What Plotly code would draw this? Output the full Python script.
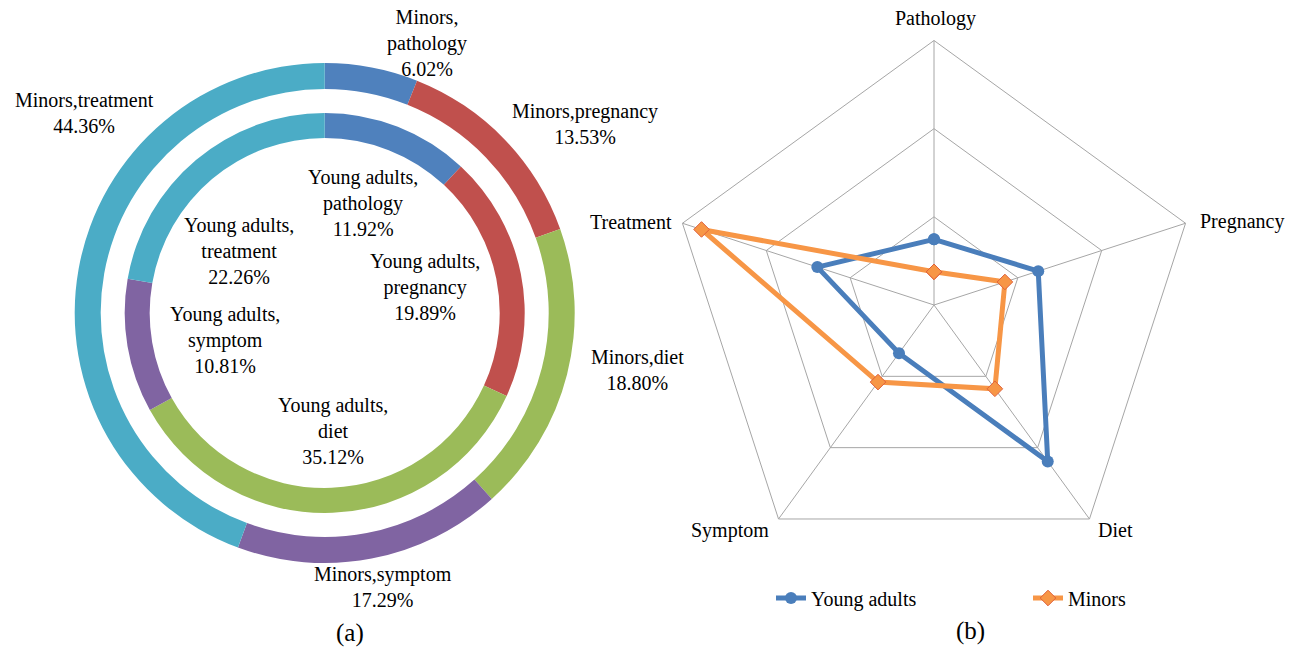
import plotly.graph_objects as go

# Topic shares (%) by age group, listed clockwise from the top
topics = ["Pathology", "Pregnancy", "Diet", "Symptom", "Treatment"]
topic_keys = ["pathology", "pregnancy", "diet", "symptom", "treatment"]
young_adults = [11.92, 19.89, 35.12, 10.81, 22.26]
minors = [6.02, 13.53, 18.80, 17.29, 44.36]

slice_colors = ["#4F81BD", "#C0504D", "#9BBB59", "#8064A2", "#4BACC6"]
W, H = 1298, 648
SERIF = "Liberation Serif"


def px_x(x):
    return x / W


def px_y(y):
    return 1 - y / H


fig = go.Figure()

# Outer ring: minors
fig.add_trace(go.Pie(
    values=minors, labels=[f"Minors,{k}" for k in topic_keys],
    sort=False, direction="clockwise", rotation=0, hole=0.896,
    marker=dict(colors=slice_colors, line=dict(width=0)),
    textinfo="none", showlegend=False,
    domain=dict(x=[px_x(74.7), px_x(574.7)], y=[px_y(563), px_y(63)]),
))

# Inner ring: young adults
fig.add_trace(go.Pie(
    values=young_adults, labels=[f"Young adults,{k}" for k in topic_keys],
    sort=False, direction="clockwise", rotation=0, hole=0.875,
    marker=dict(colors=slice_colors, line=dict(width=0)),
    textinfo="none", showlegend=False,
    domain=dict(x=[px_x(124.7), px_x(524.7)], y=[px_y(513), px_y(113)]),
))

# Radar profiles (closed by repeating the first axis)
closed_theta = topics + topics[:1]
fig.add_trace(go.Scatterpolar(
    r=young_adults + young_adults[:1], theta=closed_theta, name="Young adults",
    mode="lines+markers",
    line=dict(color="#4A7EBB", width=5),
    marker=dict(symbol="circle", size=12, color="#4A7EBB"),
))
fig.add_trace(go.Scatterpolar(
    r=minors + minors[:1], theta=closed_theta, name="Minors",
    mode="lines+markers",
    line=dict(color="#F79646", width=5),
    marker=dict(symbol="diamond", size=12, color="#F79646",
                line=dict(color="#E0603A", width=1)),
))

# Donut labels
outer_label_pos = {
    "pathology": (427, 43),
    "pregnancy": (585, 124),
    "diet": (637, 370),
    "symptom": (383, 587),
    "treatment": (84, 113),
}
inner_label_pos = {
    "pathology": (363, 203),
    "pregnancy": (425, 287),
    "diet": (333, 431),
    "symptom": (225, 340),
    "treatment": (239, 251),
}
label_font = dict(family=SERIF, size=20, color="black")
for key, val in zip(topic_keys, minors):
    x, y = outer_label_pos[key]
    if key == "pathology":
        txt = f"Minors,<br>{key}<br>{val:.2f}%"
    else:
        txt = f"Minors,{key}<br>{val:.2f}%"
    fig.add_annotation(x=px_x(x), y=px_y(y), text=txt, xref="paper", yref="paper",
                       showarrow=False, xanchor="center", yanchor="middle",
                       font=label_font)
for key, val in zip(topic_keys, young_adults):
    x, y = inner_label_pos[key]
    fig.add_annotation(x=px_x(x), y=px_y(y),
                       text=f"Young adults,<br>{key}<br>{val:.2f}%",
                       xref="paper", yref="paper", showarrow=False,
                       xanchor="center", yanchor="middle", font=label_font)

# Radar axis names placed just outside the outer pentagon
axis_label_pos = {
    "Pathology": (935, 18, "center"),
    "Pregnancy": (1198, 222, "left"),
    "Diet": (1115, 530, "center"),
    "Symptom": (730, 530, "center"),
    "Treatment": (674, 222, "right"),
}
for name in topics:
    x, y, anchor = axis_label_pos[name]
    fig.add_annotation(x=px_x(x), y=px_y(y), text=name, xref="paper", yref="paper",
                       showarrow=False, xanchor=anchor, yanchor="middle",
                       font=label_font)

fig.add_annotation(x=px_x(350), y=px_y(633), xref="paper", yref="paper",
                   text="(a)", showarrow=False, xanchor="center", yanchor="middle",
                   font=dict(family=SERIF, size=25, color="black"))
fig.add_annotation(x=px_x(970), y=px_y(631), xref="paper", yref="paper",
                   text="(b)", showarrow=False, xanchor="center", yanchor="middle",
                   font=dict(family=SERIF, size=25, color="black"))

grid = "#A6A6A6"
fig.update_layout(
    width=W, height=H,
    margin=dict(l=0, r=0, t=0, b=0),
    paper_bgcolor="white", plot_bgcolor="white",
    polar=dict(
        domain=dict(x=[px_x(669.5), px_x(1198.5)], y=[px_y(569.5), px_y(40.5)]),
        gridshape="linear",
        bgcolor="white",
        radialaxis=dict(range=[0, 48], tickvals=[16, 32, 48], showticklabels=False,
                        ticks="", showline=False, gridcolor=grid, gridwidth=1),
        angularaxis=dict(rotation=90, direction="clockwise", linecolor=grid,
                         gridcolor=grid, ticks="", showticklabels=False),
    ),
    legend=dict(orientation="h", x=px_x(771), y=px_y(598), xanchor="left",
                yanchor="middle", entrywidth=212,
                font=dict(family=SERIF, size=20, color="black"),
                bgcolor="rgba(0,0,0,0)"),
)

fig.write_html("out.html")
